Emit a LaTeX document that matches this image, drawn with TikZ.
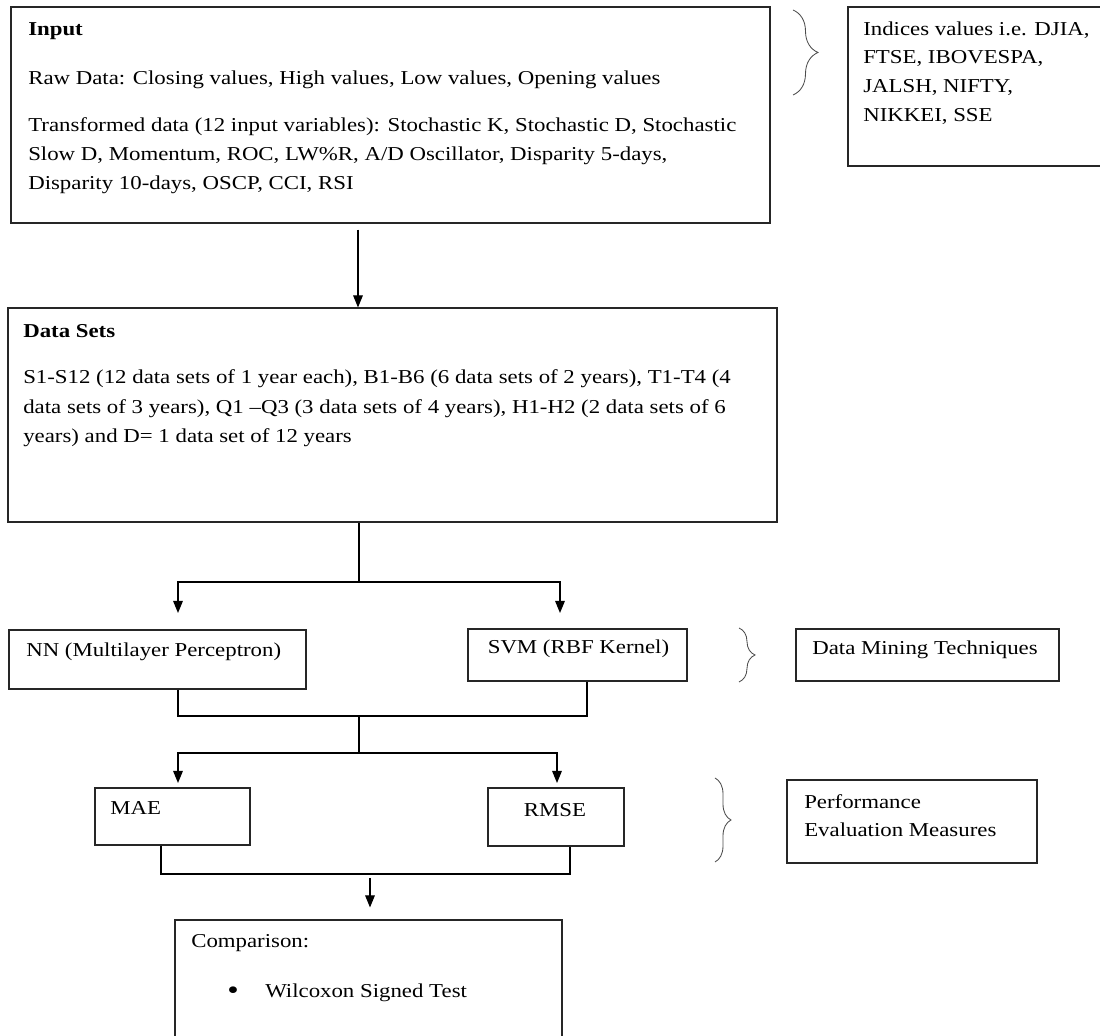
\documentclass[tikz,border=0pt]{standalone}
\usepackage{fontspec}
\setmainfont{Liberation Serif}[FakeStretch=1.16]
\usetikzlibrary{arrows.meta,decorations.pathreplacing}

\begin{document}
\begin{tikzpicture}[
		caja/.style={draw=black!85, line width=0.8pt, inner sep=0pt},
		texto/.style={font=\fontsize{14}{17}\selectfont, inner sep=0pt, anchor=west},
		titulo/.style={texto, font=\fontsize{14}{17}\selectfont\bfseries},
		flecha/.style={line width=0.8pt, -{Triangle[length=0.3cm,width=0.24cm]}},
		linea/.style={line width=0.8pt},
		llave/.style={draw=black!70, line width=0.6pt, decorate}
	]
		\useasboundingbox (0,0) rectangle (27.5,25.9);
		
		% cajas
		\node[caja, minimum width=18.975cm, minimum height=5.4cm] (input) at (9.7625,23.025) {};
		\node[caja, minimum width=6.35cm, minimum height=3.975cm] (indices) at (24.375,23.7375) {};
		\node[caja, minimum width=19.225cm, minimum height=5.35cm] (datos) at (9.8125,15.525) {};
		\node[caja, minimum width=7.425cm, minimum height=1.475cm] (nn) at (3.9375,9.4125) {};
		\node[caja, minimum width=5.475cm, minimum height=1.3cm] (svm) at (14.4375,9.525) {};
		\node[caja, minimum width=6.575cm, minimum height=1.3cm] (tecnicas) at (23.1875,9.525) {};
		\node[caja, minimum width=3.875cm, minimum height=1.425cm] (mae) at (4.3125,5.4875) {};
		\node[caja, minimum width=3.4cm, minimum height=1.45cm] (rmse) at (13.9,5.475) {};
		\node[caja, minimum width=6.25cm, minimum height=2.075cm] (medidas) at (22.8,5.3625) {};
		\node[caja, minimum width=9.675cm, minimum height=3cm] (comp) at (9.2125,1.4) {};
		
		% Input
		\node[titulo] (t-input) at (0.7,25.125) {Input};
		\node[texto] (t-raw) at (0.7,23.9) {Raw Data: Closing values, High values, Low values, Opening values};
		\node[texto] (t-tr1) at (0.7,22.725) {Transformed data (12 input variables): Stochastic K, Stochastic D, Stochastic};
		\node[texto] (t-tr2) at (0.7,22.0) {Slow D, Momentum, ROC, LW\%R, A/D Oscillator, Disparity 5-days,};
		\node[texto] (t-tr3) at (0.7,21.275) {Disparity 10-days, OSCP, CCI, RSI};
		
		% indices
		\node[texto] (t-ind1) at (21.575,25.15) {Indices values i.e. DJIA,};
		\node[texto] (t-ind2) at (21.575,24.425) {FTSE, IBOVESPA,};
		\node[texto] (t-ind3) at (21.575,23.7) {JALSH, NIFTY,};
		\node[texto] (t-ind4) at (21.575,22.975) {NIKKEI, SSE};
		
		% Data Sets
		\node[titulo] (t-datos) at (0.575,17.625) {Data Sets};
		\node[texto] (t-ds1) at (0.575,16.425) {S1-S12 (12 data sets of 1 year each), B1-B6 (6 data sets of 2 years), T1-T4 (4};
		\node[texto] (t-ds2) at (0.575,15.675) {data sets of 3 years), Q1 --Q3 (3 data sets of 4 years), H1-H2 (2 data sets of 6};
		\node[texto] (t-ds3) at (0.575,14.95) {years) and D= 1 data set of 12 years};
		
		% tecnicas
		\node[texto] (t-nn) at (0.65,9.6) {NN (Multilayer Perceptron)};
		\node[texto, anchor=center] (t-svm) at (14.4625,9.675) {SVM (RBF Kernel)};
		\node[texto, anchor=center] (t-tec) at (23.125,9.65) {Data Mining Techniques};
		
		% medidas
		\node[texto] (t-mae) at (2.75,5.7) {MAE};
		\node[texto, anchor=center] (t-rmse) at (13.875,5.65) {RMSE};
		\node[texto] (t-med1) at (20.1,5.85) {Performance};
		\node[texto] (t-med2) at (20.1,5.15) {Evaluation Measures};
		
		% comparacion
		\node[texto] (t-comp) at (4.775,2.325) {Comparison:};
		\node[texto, anchor=center, font=\fontsize{20}{20}\selectfont] (t-bala) at (5.825,1.075) {\textbullet};
		\node[texto] (t-wil) at (6.625,1.075) {Wilcoxon Signed Test};
		
		% llaves
		\draw[llave, decoration={brace, amplitude=0.625cm}] (19.825,25.65) -- (19.825,23.525);
		\draw[llave, decoration={brace, amplitude=0.4cm}] (18.475,10.2) -- (18.475,8.85);
		\draw[llave, decoration={brace, amplitude=0.4cm}] (17.875,6.45) -- (17.875,4.35);
		
		% puntos de union
		\coordinate (c-in) at (8.95,0);
		\coordinate (f1) at (8.975,11.35);
		\coordinate (a-nn) at (4.45,10.575);
		\coordinate (a-svm) at (14.0,10.575);
		\coordinate (s-svm) at (14.675,8.0);
		\coordinate (j1) at (8.975,8.0);
		\coordinate (f2) at (8.975,7.075);
		\coordinate (a-mae) at (4.45,6.325);
		\coordinate (a-rmse) at (13.925,6.325);
		\coordinate (s-mae) at (4.025,4.05);
		\coordinate (s-rmse) at (14.25,4.05);
		\coordinate (f3) at (9.25,4.05);
		
		% conectores
		\draw[flecha, shorten <=0.15cm] (input.south -| c-in) -- (datos.north -| c-in);
		\draw[linea] (datos.south -| f1) -- (f1);
		\draw[flecha] (f1) -| (a-nn);
		\draw[flecha] (f1) -| (a-svm);
		\draw[linea] (nn.south -| a-nn) |- (s-svm) -- (svm.south -| s-svm);
		\draw[linea] (j1) -- (f2);
		\draw[flecha] (f2) -| (a-mae);
		\draw[flecha] (f2) -| (a-rmse);
		\draw[linea] (mae.south -| s-mae) -- (s-mae) -- (s-rmse) -- (rmse.south -| s-rmse);
		\draw[flecha, shorten <=0.1cm, shorten >=0.3cm] (f3) -- (comp.north -| f3);
	\end{tikzpicture}
\end{document}
